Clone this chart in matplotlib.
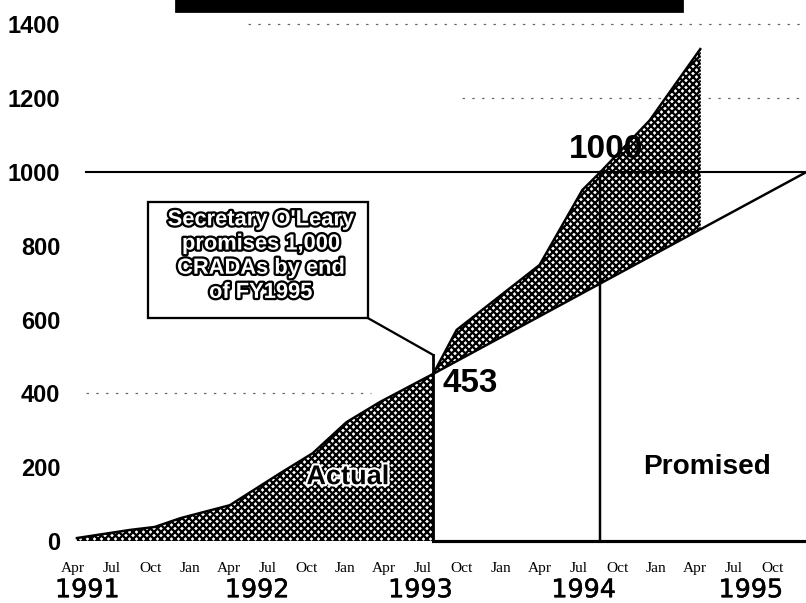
import numpy as np
import matplotlib
matplotlib.use('Agg')
import matplotlib.pyplot as plt
import matplotlib.patheffects as pe
from matplotlib.patches import Rectangle

# months counted from Apr 1991 (0 = Apr 1991)
month_ticks = list(range(0, 55, 3))
month_labels = ['Apr', 'Jul', 'Oct', 'Jan'] * 4 + ['Apr', 'Jul', 'Oct']
year_labels = ['1991', '1992', '1993', '1994', '1995']
year_pos = [1.1, 14.2, 26.8, 39.4, 52.3]
yticks = [0, 200, 400, 600, 800, 1000, 1200, 1400]

actual_month = [0.3, 4.4, 6.3, 8.3, 12.1, 16.0, 18.5, 21.1, 23.7, 27.8,
                29.6, 36.0, 39.3, 40.7, 44.5, 48.4]
actual_val = [8, 30, 38, 62, 97, 184, 238, 322, 377, 453,
              572, 748, 951, 1000, 1140, 1333]
promised_month = [27.8, 56.6]
promised_val = [453, 1000]
goal = 1000

DPI = 126
matplotlib.rcParams['hatch.linewidth'] = 1.3
HATCH = 'x' * 6

fig = plt.figure(figsize=(806 / DPI, 603 / DPI), dpi=DPI)
ax = fig.add_axes([62 / 806, 55 / 603, 744 / 806, 548 / 603])
ax.set_xlim(-0.85, 56.56)
ax.set_ylim(-19, 1466)
for s in ax.spines.values():
    s.set_visible(False)

am = np.array(actual_month)
av = np.array(actual_val)
split = actual_month.index(promised_month[0])

# faint dotted remnants of grid lines
dots = dict(color='#666666', lw=0.7, linestyle=(0, (2, 6)), zorder=0)
ax.plot([13.5, 56.6], [1400, 1400], **dots)
ax.plot([30.0, 47.5], [1200, 1200], **dots)
ax.plot([49.0, 56.6], [1200, 1200], **dots)
ax.plot([1.0, 23.0], [400, 400], **dots)

# actual area up to the start of the promise
ax.fill_between(am[:split + 1], 0, av[:split + 1], facecolor='white',
                edgecolor='black', hatch=HATCH, linewidth=0)
# actual above promised line
xs = am[split:]
lower = np.interp(xs, promised_month, promised_val)
ax.fill_between(xs, lower, av[split:], facecolor='white',
                edgecolor='black', hatch=HATCH, linewidth=0)

ax.plot(am, av, color='black', lw=1.4)
ax.plot(promised_month, promised_val, color='black', lw=1.4)
ax.plot([am[-1], am[-1]], [lower[-1], av[-1]], color='black', lw=1.0,
        linestyle=(0, (1, 1)))

# reference lines
ax.axhline(goal, xmin=(1.0 + 0.85) / 57.41, color='black', lw=1.2)
goal_month = actual_month[actual_val.index(goal)]
ax.plot([goal_month, goal_month], [0, goal], color='black', lw=1.4)
ax.plot([promised_month[0], 56.6], [0, 0], color='black', lw=1.8)
ax.plot([promised_month[0], promised_month[0]], [0, 504], color='black', lw=1.6)

# callout
ax.add_patch(Rectangle((5.79, 604), 16.97, 315, facecolor='white',
                       edgecolor='black', lw=1.3, zorder=3))
ax.plot([22.76, promised_month[0]], [604, 504], color='black', lw=1.3)
ax.text(14.5, 772, "Secretary O'Leary\npromises 1,000\nCRADAs by end\nof FY1995",
        ha='center', va='center', fontsize=12.5, fontweight='bold',
        family='Liberation Sans', color='white', linespacing=1.2, zorder=4,
        path_effects=[pe.withStroke(linewidth=2.6, foreground='black')])

bold = dict(family='Liberation Sans', fontweight='bold', color='black')
halo = [pe.withStroke(linewidth=2.5, foreground='white')]
ax.text(28.5, 428, str(promised_val[0]), ha='left', va='center', fontsize=19, **bold)
ax.text(41.1, 1062, str(goal), ha='center', va='center', fontsize=19, **bold)
ax.text(21.2, 173, 'Actual', ha='center', va='center', fontsize=15.5,
        path_effects=halo, **bold)
ax.text(48.9, 200, 'Promised', ha='center', va='center', fontsize=16, **bold)

# axes labels
ax.set_yticks(yticks)
ax.set_yticklabels([str(v) for v in yticks], family='Liberation Sans',
                   fontweight='bold', fontsize=13.5)
ax.set_xticks(month_ticks)
ax.set_xticklabels(month_labels, family='Liberation Serif', fontsize=8.8)
ax.tick_params(axis='y', length=0, pad=1)
ax.tick_params(axis='x', length=0, pad=8)
thick = [pe.withStroke(linewidth=0.3, foreground='black')]
for x, lbl in zip(year_pos, year_labels):
    ax.text(x, -0.077, lbl, transform=ax.get_xaxis_transform(), ha='center',
            va='center', fontsize=14.5, family='DejaVu Sans', path_effects=thick)

# dark bar at the top (cut-off title)
fig.patches.append(Rectangle((176 / 806, 1 - 12 / 603), 507 / 806, 12 / 603,
                             transform=fig.transFigure, color='black'))

fig.savefig('out.png', dpi=DPI)
